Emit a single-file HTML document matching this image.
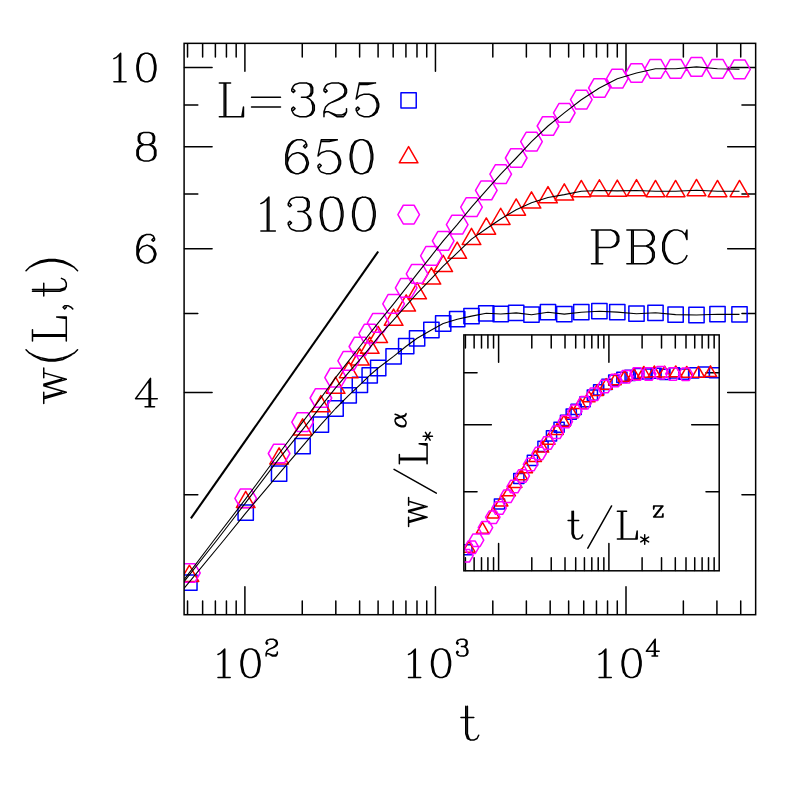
<!DOCTYPE html><html><head><meta charset="utf-8"><title>w(L,t)</title><style>html,body{margin:0;padding:0;background:#fff;font-family:"Liberation Sans",sans-serif}svg{display:block}</style></head><body><svg width="797" height="797" viewBox="0 0 797 797"><rect width="797" height="797" fill="#fff"/><path d="M187.54 614.3v-13.3M187.54 43.75v13.3M202.63 614.3v-13.3M202.63 43.75v13.3M215.38 614.3v-13.3M215.38 43.75v13.3M226.43 614.3v-13.3M226.43 43.75v13.3M236.18 614.3v-13.3M236.18 43.75v13.3M244.9 614.3v-27.6M244.9 43.75v27.6M302.26 614.3v-13.3M302.26 43.75v13.3M335.82 614.3v-13.3M335.82 43.75v13.3M359.62 614.3v-13.3M359.62 43.75v13.3M378.09 614.3v-13.3M378.09 43.75v13.3M393.18 614.3v-13.3M393.18 43.75v13.3M405.93 614.3v-13.3M405.93 43.75v13.3M416.98 614.3v-13.3M416.98 43.75v13.3M426.73 614.3v-13.3M426.73 43.75v13.3M435.45 614.3v-27.6M435.45 43.75v27.6M492.81 614.3v-13.3M492.81 43.75v13.3M526.37 614.3v-13.3M526.37 43.75v13.3M550.17 614.3v-13.3M550.17 43.75v13.3M568.64 614.3v-13.3M568.64 43.75v13.3M583.73 614.3v-13.3M583.73 43.75v13.3M596.48 614.3v-13.3M596.48 43.75v13.3M607.53 614.3v-13.3M607.53 43.75v13.3M617.28 614.3v-13.3M617.28 43.75v13.3M626 614.3v-27.6M626 43.75v27.6M683.36 614.3v-13.3M683.36 43.75v13.3M716.92 614.3v-13.3M716.92 43.75v13.3M740.72 614.3v-13.3M740.72 43.75v13.3M184.5 494.69h13.3M755.25 494.69h-13.3M184.5 392.62h27.6M755.25 392.62h-27.6M184.5 313.44h13.3M755.25 313.44h-13.3M184.5 248.75h27.6M755.25 248.75h-27.6M184.5 194.05h13.3M755.25 194.05h-13.3M184.5 146.68h27.6M755.25 146.68h-27.6M184.5 104.88h13.3M755.25 104.88h-13.3M184.5 67.5h27.6M755.25 67.5h-27.6" stroke="#000" stroke-width="1.5" fill="none" stroke-linecap="round"/><clipPath id="c1"><rect x="184.1" y="43.35" width="571.55" height="571.35"/></clipPath><g clip-path="url(#c1)" fill="none" stroke-linejoin="round"><path d="M190.9 518.4L378.2 251.5" stroke="#000" stroke-width="2.1"/><path d="M181.76 574.91h15.27v15.27h-15.27zM238.06 505.06h15.27v15.27h-15.27zM271.46 466.06h15.27v15.27h-15.27zM294.96 438.46h15.27v15.27h-15.27zM313.26 416.96h15.27v15.27h-15.27zM327.96 400.86h15.27v15.27h-15.27zM341.06 387.76h15.27v15.27h-15.27zM352.26 377.26h15.27v15.27h-15.27zM362.06 367.76h15.27v15.27h-15.27zM370.56 360.36h15.27v15.27h-15.27zM385.96 348.76h15.27v15.27h-15.27zM398.56 338.56h15.27v15.27h-15.27zM409.46 330.66h15.27v15.27h-15.27zM423.76 322.36h15.27v15.27h-15.27zM435.56 315.86h15.27v15.27h-15.27zM449.56 311.56h15.27v15.27h-15.27zM463.86 308.46h15.27v15.27h-15.27zM478.66 305.66h15.27v15.27h-15.27zM493.06 306.36h15.27v15.27h-15.27zM508.56 305.26h15.27v15.27h-15.27zM523.86 307.06h15.27v15.27h-15.27zM540.36 304.56h15.27v15.27h-15.27zM556.66 306.46h15.27v15.27h-15.27zM573.66 304.56h15.27v15.27h-15.27zM591.76 303.56h15.27v15.27h-15.27zM609.66 304.46h15.27v15.27h-15.27zM628.86 306.06h15.27v15.27h-15.27zM647.86 305.16h15.27v15.27h-15.27zM667.96 306.96h15.27v15.27h-15.27zM688.86 307.36h15.27v15.27h-15.27zM709.86 306.56h15.27v15.27h-15.27zM731.86 306.76h15.27v15.27h-15.27z" stroke="#00f" stroke-width="1.5"/><path d="M189.4 565.2L198.75 581.4L180.05 581.4zM245.7 491.35L255.05 507.55L236.35 507.55zM279.1 447.85L288.45 464.05L269.75 464.05zM302.6 418.85L311.95 435.05L293.25 435.05zM320.9 395.65L330.25 411.85L311.55 411.85zM335.6 377.15L344.95 393.35L326.25 393.35zM348.7 361.65L358.05 377.85L339.35 377.85zM359.9 348.85L369.25 365.05L350.55 365.05zM369.7 337.15L379.05 353.35L360.35 353.35zM378.2 326.35L387.55 342.55L368.85 342.55zM393.6 309.15L402.95 325.35L384.25 325.35zM406.2 294.85L415.55 311.05L396.85 311.05zM417.1 282.65L426.45 298.85L407.75 298.85zM431.4 267.85L440.75 284.05L422.05 284.05zM443.2 255.35L452.55 271.55L433.85 271.55zM457.2 242.15L466.55 258.35L447.85 258.35zM471.5 228.35L480.85 244.55L462.15 244.55zM486.3 217.95L495.65 234.15L476.95 234.15zM500.7 208.25L510.05 224.45L491.35 224.45zM516.2 198.95L525.55 215.15L506.85 215.15zM531.5 191.85L540.85 208.05L522.15 208.05zM548 186.65L557.35 202.85L538.65 202.85zM564.3 183.85L573.65 200.05L554.95 200.05zM581.3 180.45L590.65 196.65L571.95 196.65zM599.4 179.75L608.75 195.95L590.05 195.95zM617.3 180.05L626.65 196.25L607.95 196.25zM636.5 179.65L645.85 195.85L627.15 195.85zM655.5 180.45L664.85 196.65L646.15 196.65zM675.6 180.45L684.95 196.65L666.25 196.65zM696.5 179.45L705.85 195.65L687.15 195.65zM717.5 180.45L726.85 196.65L708.15 196.65zM739.5 180.45L748.85 196.65L730.15 196.65z" stroke="#f00" stroke-width="1.5"/><path d="M200.2 573L194.8 582.35L184 582.35L178.6 573L184 563.65L194.8 563.65zM256.5 498.4L251.1 507.75L240.3 507.75L234.9 498.4L240.3 489.05L251.1 489.05zM289.9 453.5L284.5 462.85L273.7 462.85L268.3 453.5L273.7 444.15L284.5 444.15zM313.4 422.1L308 431.45L297.2 431.45L291.8 422.1L297.2 412.75L308 412.75zM331.7 398L326.3 407.35L315.5 407.35L310.1 398L315.5 388.65L326.3 388.65zM346.4 377.6L341 386.95L330.2 386.95L324.8 377.6L330.2 368.25L341 368.25zM359.5 360.8L354.1 370.15L343.3 370.15L337.9 360.8L343.3 351.45L354.1 351.45zM370.7 346.5L365.3 355.85L354.5 355.85L349.1 346.5L354.5 337.15L365.3 337.15zM380.5 333.7L375.1 343.05L364.3 343.05L358.9 333.7L364.3 324.35L375.1 324.35zM389 322.8L383.6 332.15L372.8 332.15L367.4 322.8L372.8 313.45L383.6 313.45zM404.4 303.8L399 313.15L388.2 313.15L382.8 303.8L388.2 294.45L399 294.45zM417 287.8L411.6 297.15L400.8 297.15L395.4 287.8L400.8 278.45L411.6 278.45zM427.9 273.8L422.5 283.15L411.7 283.15L406.3 273.8L411.7 264.45L422.5 264.45zM442.2 255.8L436.8 265.15L426 265.15L420.6 255.8L426 246.45L436.8 246.45zM454 240.9L448.6 250.25L437.8 250.25L432.4 240.9L437.8 231.55L448.6 231.55zM468 224.7L462.6 234.05L451.8 234.05L446.4 224.7L451.8 215.35L462.6 215.35zM482.3 207.2L476.9 216.55L466.1 216.55L460.7 207.2L466.1 197.85L476.9 197.85zM497.1 190.4L491.7 199.75L480.9 199.75L475.5 190.4L480.9 181.05L491.7 181.05zM511.5 174.2L506.1 183.55L495.3 183.55L489.9 174.2L495.3 164.85L506.1 164.85zM527 158L521.6 167.35L510.8 167.35L505.4 158L510.8 148.65L521.6 148.65zM542.3 141.7L536.9 151.05L526.1 151.05L520.7 141.7L526.1 132.35L536.9 132.35zM558.8 126L553.4 135.35L542.6 135.35L537.2 126L542.6 116.65L553.4 116.65zM575.1 112.9L569.7 122.25L558.9 122.25L553.5 112.9L558.9 103.55L569.7 103.55zM592.1 99.7L586.7 109.05L575.9 109.05L570.5 99.7L575.9 90.35L586.7 90.35zM610.2 88L604.8 97.35L594 97.35L588.6 88L594 78.65L604.8 78.65zM628.1 78.7L622.7 88.05L611.9 88.05L606.5 78.7L611.9 69.35L622.7 69.35zM647.3 73L641.9 82.35L631.1 82.35L625.7 73L631.1 63.65L641.9 63.65zM666.3 68.8L660.9 78.15L650.1 78.15L644.7 68.8L650.1 59.45L660.9 59.45zM686.4 68.8L681 78.15L670.2 78.15L664.8 68.8L670.2 59.45L681 59.45zM707.3 66.9L701.9 76.25L691.1 76.25L685.7 66.9L691.1 57.55L701.9 57.55zM728.3 68.8L722.9 78.15L712.1 78.15L706.7 68.8L712.1 59.45L722.9 59.45zM750.3 69.3L744.9 78.65L734.1 78.65L728.7 69.3L734.1 59.95L744.9 59.95z" stroke="#f0f" stroke-width="1.5"/><path d="M180.8 592.2L184.85 587.4L224 540L245.7 513.1L279.1 473.7L302.6 446.1L320.9 424.6L335.6 408.5L348.7 395.4L359.9 384.9L369.7 375.4L378.2 368L393.6 356.4L406.2 346.2L417.1 338.3L431.4 330L443.2 323.5L457.2 319.2L471.5 316.1L486.3 313.3L500.7 314L516.2 312.9L531.5 314.7L548 312.2L564.3 314.1L581.3 312.2L599.4 311.2L617.3 312.1L636.5 313.7L655.5 312.8L675.6 314.6L696.5 315L717.5 314.2L739.5 314.4" stroke="#000" stroke-width="1.1" stroke-linejoin="round"/><path d="M180.8 585.6L184.85 580.6L217 540L232.4 520L245.9 502.3L279.1 458.65L302.6 429.65L320.9 406.45L335.6 387.95L348.7 372.45L359.9 359.65L369.7 347.95L378.2 337.15L393.6 319.95L406.2 305.65L417.1 293.45L431.4 278.65L443.2 266.15L457.2 252.95L471.5 239.15L486.3 228.75L500.7 219.05L516.2 209.75L531.5 202.65L548 197.45L564.3 194.65L581.3 191.25L599.4 190.55L617.3 190.85L636.5 190.45L655.5 191.25L675.6 191.25L696.5 190.25L717.5 191.25L739.5 191.25" stroke="#000" stroke-width="1.1" stroke-linejoin="round"/><path d="M180.8 583.8L184.85 578.6L214.1 540L245.8 498.7L279.1 453.5L302.6 422.1L320.9 398L335.6 377.6L348.7 360.8L359.9 346.5L369.7 333.7L378.2 322.8L393.6 303.8L406.2 287.8L417.1 273.8L431.4 255.8L443.2 240.9L457.2 224.7L471.5 207.2L486.3 190.4L500.7 174.2L516.2 158L531.5 141.7L548 126L564.3 112.9L581.3 99.7L599.4 88L617.3 78.7L636.5 73L655.5 68.8L675.6 68.8L696.5 66.9L717.5 68.8L739.5 69.3" stroke="#000" stroke-width="1.1" stroke-linejoin="round"/></g><path d="M400.96 92.66h15.27v15.27h-15.27z" stroke="#00f" stroke-width="1.5" fill="none" stroke-linejoin="round"/><path d="M408.6 146.65L417.95 162.85L399.25 162.85z" stroke="#f00" stroke-width="1.5" fill="none" stroke-linejoin="round"/><path d="M419.5 214.6L414.1 223.95L403.3 223.95L397.9 214.6L403.3 205.25L414.1 205.25z" stroke="#f0f" stroke-width="1.5" fill="none" stroke-linejoin="round"/><rect x="463.85" y="334.9" width="255.35" height="235.9" fill="#fff" stroke="none"/><path d="M465.4 570.4v-12.6M465.4 335.3v12.6M474.13 570.4v-12.6M474.13 335.3v12.6M481.51 570.4v-12.6M481.51 335.3v12.6M487.91 570.4v-12.6M487.91 335.3v12.6M493.55 570.4v-12.6M493.55 335.3v12.6M498.6 570.4v-27M498.6 335.3v27M531.8 570.4v-12.6M531.8 335.3v12.6M551.23 570.4v-12.6M551.23 335.3v12.6M565.01 570.4v-12.6M565.01 335.3v12.6M575.7 570.4v-12.6M575.7 335.3v12.6M584.43 570.4v-12.6M584.43 335.3v12.6M591.81 570.4v-12.6M591.81 335.3v12.6M598.21 570.4v-12.6M598.21 335.3v12.6M603.85 570.4v-12.6M603.85 335.3v12.6M608.9 570.4v-27M608.9 335.3v27M642.1 570.4v-12.6M642.1 335.3v12.6M661.53 570.4v-12.6M661.53 335.3v12.6M675.31 570.4v-12.6M675.31 335.3v12.6M686 570.4v-12.6M686 335.3v12.6M694.73 570.4v-12.6M694.73 335.3v12.6M702.11 570.4v-12.6M702.11 335.3v12.6M708.51 570.4v-12.6M708.51 335.3v12.6M714.15 570.4v-12.6M714.15 335.3v12.6M464.25 372.76h12.8M718.8 372.76h-12.8M464.25 424.7h27.1M718.8 424.7h-27.1M464.25 491.67h12.8M718.8 491.67h-12.8" stroke="#000" stroke-width="1.5" fill="none" stroke-linecap="round"/><clipPath id="c2"><rect x="463.85" y="334.9" width="255.35" height="235.9"/></clipPath><g clip-path="url(#c2)" fill="none" stroke-linejoin="round"><path d="M461.81 544.63h10.18v10.18h-10.18zM494.4 498.92h10.18v10.18h-10.18zM513.72 473.4h10.18v10.18h-10.18zM527.32 455.34h10.18v10.18h-10.18zM537.91 441.27h10.18v10.18h-10.18zM546.42 430.73h10.18v10.18h-10.18zM554 422.16h10.18v10.18h-10.18zM560.48 415.29h10.18v10.18h-10.18zM566.15 409.07h10.18v10.18h-10.18zM571.07 404.23h10.18v10.18h-10.18zM579.99 396.64h10.18v10.18h-10.18zM587.28 389.96h10.18v10.18h-10.18zM593.58 384.79h10.18v10.18h-10.18zM601.86 379.36h10.18v10.18h-10.18zM608.69 375.11h10.18v10.18h-10.18zM616.79 372.29h10.18v10.18h-10.18zM625.07 370.26h10.18v10.18h-10.18zM633.63 368.43h10.18v10.18h-10.18zM641.96 368.89h10.18v10.18h-10.18zM650.93 368.17h10.18v10.18h-10.18zM659.79 369.35h10.18v10.18h-10.18zM669.34 367.71h10.18v10.18h-10.18zM678.77 368.96h10.18v10.18h-10.18zM688.61 367.71h10.18v10.18h-10.18zM699.08 367.06h10.18v10.18h-10.18zM709.44 367.65h10.18v10.18h-10.18z" stroke="#00f" stroke-width="1.5"/><path d="M468.92 541.44L475.15 552.24L462.68 552.24zM482.51 522.46L488.75 533.26L476.28 533.26zM493.1 507.28L499.34 518.08L486.87 518.08zM501.61 495.17L507.85 505.97L495.38 505.97zM509.19 485.03L515.43 495.83L502.96 495.83zM515.67 476.65L521.91 487.45L509.44 487.45zM521.35 469L527.58 479.8L515.11 479.8zM526.26 461.93L532.5 472.73L520.03 472.73zM535.18 450.68L541.41 461.48L528.94 461.48zM542.47 441.32L548.7 452.12L536.23 452.12zM548.78 433.33L555.01 444.13L542.54 444.13zM557.05 423.65L563.29 434.45L550.82 434.45zM563.88 415.47L570.12 426.27L557.64 426.27zM571.98 406.83L578.22 417.63L565.75 417.63zM580.26 397.8L586.49 408.6L574.02 408.6zM588.82 390.99L595.06 401.79L582.59 401.79zM597.16 384.65L603.39 395.45L590.92 395.45zM606.12 378.56L612.36 389.36L599.89 389.36zM614.98 373.91L621.21 384.71L608.74 384.71zM624.53 370.51L630.76 381.31L618.29 381.31zM633.96 368.68L640.2 379.48L627.73 379.48zM643.8 366.45L650.03 377.25L637.56 377.25zM654.27 366L660.51 376.8L648.04 376.8zM664.63 366.19L670.87 376.99L658.4 376.99zM675.74 365.93L681.98 376.73L669.51 376.73zM686.74 366.45L692.97 377.25L680.5 377.25zM698.37 366.45L704.61 377.25L692.13 377.25zM710.46 365.8L716.7 376.6L704.23 376.6z" stroke="#f00" stroke-width="1.5"/><path d="M473.17 555.65L469.57 561.88L462.37 561.88L458.77 555.65L462.37 549.41L469.57 549.41zM478.85 547.27L475.25 553.51L468.05 553.51L464.45 547.27L468.05 541.04L475.25 541.04zM483.76 540.14L480.16 546.38L472.96 546.38L469.36 540.14L472.96 533.9L480.16 533.9zM492.68 527.71L489.08 533.94L481.88 533.94L478.28 527.71L481.88 521.47L489.08 521.47zM499.97 517.24L496.37 523.47L489.17 523.47L485.57 517.24L489.17 511L496.37 511zM506.28 508.07L502.68 514.31L495.48 514.31L491.88 508.07L495.48 501.84L502.68 501.84zM514.55 496.3L510.95 502.53L503.75 502.53L500.15 496.3L503.75 490.06L510.95 490.06zM521.38 486.54L517.78 492.78L510.58 492.78L506.98 486.54L510.58 480.31L517.78 480.31zM529.48 475.94L525.88 482.18L518.68 482.18L515.08 475.94L518.68 469.71L525.88 469.71zM537.76 464.49L534.16 470.73L526.96 470.73L523.36 464.49L526.96 458.26L534.16 458.26zM546.32 453.5L542.72 459.73L535.52 459.73L531.92 453.5L535.52 447.26L542.72 447.26zM554.66 442.9L551.06 449.13L543.86 449.13L540.26 442.9L543.86 436.66L551.06 436.66zM563.62 432.3L560.02 438.53L552.82 438.53L549.22 432.3L552.82 426.06L560.02 426.06zM572.48 421.63L568.88 427.86L561.68 427.86L558.08 421.63L561.68 415.39L568.88 415.39zM582.03 411.35L578.43 417.59L571.23 417.59L567.63 411.35L571.23 405.12L578.43 405.12zM591.46 402.78L587.86 409.02L580.66 409.02L577.06 402.78L580.66 396.55L587.86 396.55zM601.3 394.14L597.7 400.38L590.5 400.38L586.9 394.14L590.5 387.91L597.7 387.91zM611.77 386.49L608.17 392.72L600.97 392.72L597.37 386.49L600.97 380.25L608.17 380.25zM622.13 380.4L618.53 386.64L611.33 386.64L607.73 380.4L611.33 374.17L618.53 374.17zM633.24 376.67L629.64 382.91L622.44 382.91L618.84 376.67L622.44 370.44L629.64 370.44zM644.24 373.92L640.64 380.16L633.44 380.16L629.84 373.92L633.44 367.69L640.64 367.69zM655.87 373.92L652.27 380.16L645.07 380.16L641.47 373.92L645.07 367.69L652.27 367.69zM667.96 372.68L664.36 378.91L657.16 378.91L653.56 372.68L657.16 366.44L664.36 366.44zM680.12 373.92L676.52 380.16L669.32 380.16L665.72 373.92L669.32 367.69L676.52 367.69zM692.85 374.25L689.25 380.49L682.05 380.49L678.45 374.25L682.05 368.01L689.25 368.01z" stroke="#f0f" stroke-width="1.5"/></g><rect x="463.85" y="334.9" width="255.35" height="235.9" fill="none" stroke="#000" stroke-width="1.5"/><rect x="184.1" y="43.35" width="571.55" height="571.35" fill="none" stroke="#000" stroke-width="1.5"/><path d="M145.06 53.27L141 54.63L138.29 58.69L136.93 65.47L136.93 69.53L138.29 76.31L141 80.37L145.06 81.73L147.77 81.73L151.84 80.37L154.55 76.31L155.9 69.53L155.9 65.47L154.55 58.69L151.84 54.63L147.77 53.27L145.06 53.27M145.06 53.27L142.35 54.63L141 55.98L139.64 58.69L138.29 65.47L138.29 69.53L139.64 76.31L141 79.02L142.35 80.37L145.06 81.73M147.77 81.73L150.48 80.37L151.84 79.02L153.19 76.31L154.55 69.53L154.55 65.47L153.19 58.69L151.84 55.98L150.48 54.63L147.77 53.27M113.9 58.69L116.61 57.34L120.67 53.27L120.67 81.73M119.32 54.63L119.32 81.73M113.9 81.73L126.09 81.73M143.71 132.45L139.64 133.8L138.29 136.51L138.29 140.58L139.64 143.29L143.71 144.64L149.13 144.64L153.19 143.29L154.55 140.58L154.55 136.51L153.19 133.8L149.13 132.45L143.71 132.45M143.71 132.45L141 133.8L139.64 136.51L139.64 140.58L141 143.29L143.71 144.64M149.13 144.64L151.84 143.29L153.19 140.58L153.19 136.51L151.84 133.8L149.13 132.45M143.71 144.64L139.64 146L138.29 147.35L136.93 150.06L136.93 155.48L138.29 158.19L139.64 159.55L143.71 160.9L149.13 160.9L153.19 159.55L154.55 158.19L155.9 155.48L155.9 150.06L154.55 147.35L153.19 146L149.13 144.64M143.71 144.64L141 146L139.64 147.35L138.29 150.06L138.29 155.48L139.64 158.19L141 159.55L143.71 160.9M149.13 160.9L151.84 159.55L153.19 158.19L154.55 155.48L154.55 150.06L153.19 147.35L151.84 146L149.13 144.64M153.19 238.59L151.84 239.94L153.19 241.3L154.55 239.94L154.55 238.59L153.19 235.88L150.48 234.52L146.42 234.52L142.35 235.88L139.64 238.59L138.29 241.3L136.93 246.72L136.93 254.85L138.29 258.91L141 261.62L145.06 262.98L147.77 262.98L151.84 261.62L154.55 258.91L155.9 254.85L155.9 253.49L154.55 249.43L151.84 246.72L147.77 245.36L146.42 245.36L142.35 246.72L139.64 249.43L138.29 253.49M146.42 234.52L143.71 235.88L141 238.59L139.64 241.3L138.29 246.72L138.29 254.85L139.64 258.91L142.35 261.62L145.06 262.98M147.77 262.98L150.48 261.62L153.19 258.91L154.55 254.85L154.55 253.49L153.19 249.43L150.48 246.72L147.77 245.36M149.13 381.1L149.13 406.84M150.48 378.39L150.48 406.84M150.48 378.39L135.58 398.71L157.26 398.71M145.06 406.84L154.55 406.84M217.98 654.46L220.69 653.1L224.75 649.04L224.75 677.5M223.4 650.39L223.4 677.5M217.98 677.5L230.18 677.5M249.15 649.04L245.08 650.39L242.37 654.46L241.01 661.23L241.01 665.3L242.37 672.07L245.08 676.14L249.15 677.5L251.85 677.5L255.92 676.14L258.63 672.07L259.99 665.3L259.99 661.23L258.63 654.46L255.92 650.39L251.85 649.04L249.15 649.04M249.15 649.04L246.44 650.39L245.08 651.75L243.72 654.46L242.37 661.23L242.37 665.3L243.72 672.07L245.08 674.78L246.44 676.14L249.15 677.5M251.85 677.5L254.56 676.14L255.92 674.78L257.27 672.07L258.63 665.3L258.63 661.23L257.27 654.46L255.92 651.75L254.56 650.39L251.85 649.04M266.9 642.5L267.7 643.3L266.9 644.1L266.1 643.3L266.1 642.5L266.9 640.9L267.7 640.1L270.1 639.3L273.3 639.3L275.7 640.1L276.5 640.9L277.3 642.5L277.3 644.1L276.5 645.7L274.1 647.3L270.1 648.9L268.5 649.7L266.9 651.3L266.1 653.7L266.1 656.1M273.3 639.3L274.9 640.1L275.7 640.9L276.5 642.5L276.5 644.1L275.7 645.7L273.3 647.3L270.1 648.9M266.1 654.5L266.9 653.7L268.5 653.7L272.5 655.3L274.9 655.3L276.5 654.5L277.3 653.7M268.5 653.7L272.5 656.1L275.7 656.1L276.5 655.3L277.3 653.7L277.3 652.1M408.53 654.46L411.24 653.1L415.31 649.04L415.31 677.5M413.95 650.39L413.95 677.5M408.53 677.5L420.73 677.5M439.7 649.04L435.63 650.39L432.92 654.46L431.57 661.23L431.57 665.3L432.92 672.07L435.63 676.14L439.7 677.5L442.41 677.5L446.47 676.14L449.18 672.07L450.54 665.3L450.54 661.23L449.18 654.46L446.47 650.39L442.41 649.04L439.7 649.04M439.7 649.04L436.99 650.39L435.63 651.75L434.28 654.46L432.92 661.23L432.92 665.3L434.28 672.07L435.63 674.78L436.99 676.14L439.7 677.5M442.41 677.5L445.12 676.14L446.47 674.78L447.83 672.07L449.18 665.3L449.18 661.23L447.83 654.46L446.47 651.75L445.12 650.39L442.41 649.04M457.45 642.5L458.25 643.3L457.45 644.1L456.65 643.3L456.65 642.5L457.45 640.9L458.25 640.1L460.65 639.3L463.85 639.3L466.25 640.1L467.05 641.7L467.05 644.1L466.25 645.7L463.85 646.5L461.45 646.5M463.85 639.3L465.45 640.1L466.25 641.7L466.25 644.1L465.45 645.7L463.85 646.5M463.85 646.5L465.45 647.3L467.05 648.9L467.85 650.5L467.85 652.9L467.05 654.5L466.25 655.3L463.85 656.1L460.65 656.1L458.25 655.3L457.45 654.5L456.65 652.9L456.65 652.1L457.45 651.3L458.25 652.1L457.45 652.9M466.25 648.1L467.05 650.5L467.05 652.9L466.25 654.5L465.45 655.3L463.85 656.1M599.08 654.46L601.79 653.1L605.86 649.04L605.86 677.5M604.5 650.39L604.5 677.5M599.08 677.5L611.27 677.5M630.25 649.04L626.18 650.39L623.47 654.46L622.12 661.23L622.12 665.3L623.47 672.07L626.18 676.14L630.25 677.5L632.96 677.5L637.02 676.14L639.73 672.07L641.09 665.3L641.09 661.23L639.73 654.46L637.02 650.39L632.96 649.04L630.25 649.04M630.25 649.04L627.53 650.39L626.18 651.75L624.83 654.46L623.47 661.23L623.47 665.3L624.83 672.07L626.18 674.78L627.53 676.14L630.25 677.5M632.96 677.5L635.67 676.14L637.02 674.78L638.38 672.07L639.73 665.3L639.73 661.23L638.38 654.46L637.02 651.75L635.67 650.39L632.96 649.04M654.4 640.9L654.4 656.1M655.2 639.3L655.2 656.1M655.2 639.3L646.4 651.3L659.2 651.3M652 656.1L657.6 656.1M465.78 706.28L465.78 733.65L467.39 738.48L470.61 740.09L473.83 740.09L477.05 738.48L478.66 735.26M467.39 706.28L467.39 733.65L469 738.48L470.61 740.09M460.95 717.55L473.83 717.55M43.75 398.66L66.29 392.22M43.75 397.05L61.46 392.22M43.75 385.78L66.29 392.22M43.75 385.78L66.29 379.34M43.75 384.17L61.46 379.34M43.75 372.9L66.29 379.34M43.75 403.49L43.75 392.22M43.75 377.73L43.75 368.07M26.04 349.75L29.26 352.97L34.09 356.19L40.53 359.41L48.58 361.02L55.02 361.02L63.07 359.41L69.51 356.19L74.34 352.97L77.56 349.75M29.26 352.97L35.7 356.19L40.53 357.8L48.58 359.41L55.02 359.41L63.07 357.8L67.9 356.19L74.34 352.97M32.48 336.27L66.29 336.27M32.48 334.66L66.29 334.66M32.48 341.1L32.48 329.83M66.29 341.1L66.29 316.95L56.63 316.95L66.29 318.56M66.29 307.29L64.68 308.9L63.07 307.29L64.68 305.68L67.9 305.68L71.12 307.29L72.73 308.9M32.48 291.19L59.85 291.19L64.68 289.58L66.29 286.36L66.29 283.14L64.68 279.92L61.46 278.31M32.48 289.58L59.85 289.58L64.68 287.97L66.29 286.36M43.75 296.02L43.75 283.14M26.04 270.66L29.26 267.44L34.09 264.22L40.53 261L48.58 259.39L55.02 259.39L63.07 261L69.51 264.22L74.34 267.44L77.56 270.66M29.26 267.44L35.7 264.22L40.53 262.61L48.58 261L55.02 261L63.07 262.61L67.9 264.22L74.34 267.44M224.15 82.88L224.15 116.69M225.76 82.88L225.76 116.69M219.32 82.88L230.59 82.88M219.32 116.69L243.47 116.69L243.47 107.03L241.86 116.69M251.52 97.37L280.5 97.37M251.52 107.03L280.5 107.03M293.38 89.32L294.99 90.93L293.38 92.54L291.77 90.93L291.77 89.32L293.38 86.1L294.99 84.49L299.82 82.88L306.26 82.88L311.09 84.49L312.7 87.71L312.7 92.54L311.09 95.76L306.26 97.37L301.43 97.37M306.26 82.88L309.48 84.49L311.09 87.71L311.09 92.54L309.48 95.76L306.26 97.37M306.26 97.37L309.48 98.98L312.7 102.2L314.31 105.42L314.31 110.25L312.7 113.47L311.09 115.08L306.26 116.69L299.82 116.69L294.99 115.08L293.38 113.47L291.77 110.25L291.77 108.64L293.38 107.03L294.99 108.64L293.38 110.25M311.09 100.59L312.7 105.42L312.7 110.25L311.09 113.47L309.48 115.08L306.26 116.69M325.58 89.32L327.19 90.93L325.58 92.54L323.97 90.93L323.97 89.32L325.58 86.1L327.19 84.49L332.02 82.88L338.46 82.88L343.29 84.49L344.9 86.1L346.51 89.32L346.51 92.54L344.9 95.76L340.07 98.98L332.02 102.2L328.8 103.81L325.58 107.03L323.97 111.86L323.97 116.69M338.46 82.88L341.68 84.49L343.29 86.1L344.9 89.32L344.9 92.54L343.29 95.76L338.46 98.98L332.02 102.2M323.97 113.47L325.58 111.86L328.8 111.86L336.85 115.08L341.68 115.08L344.9 113.47L346.51 111.86M328.8 111.86L336.85 116.69L343.29 116.69L344.9 115.08L346.51 111.86L346.51 108.64M359.39 82.88L356.17 98.98M356.17 98.98L359.39 95.76L364.22 94.15L369.05 94.15L373.88 95.76L377.1 98.98L378.71 103.81L378.71 107.03L377.1 111.86L373.88 115.08L369.05 116.69L364.22 116.69L359.39 115.08L357.78 113.47L356.17 110.25L356.17 108.64L357.78 107.03L359.39 108.64L357.78 110.25M369.05 94.15L372.27 95.76L375.49 98.98L377.1 103.81L377.1 107.03L375.49 111.86L372.27 115.08L369.05 116.69M359.39 82.88L375.49 82.88M359.39 84.49L367.44 84.49L375.49 82.88M305.15 144.66L303.54 146.27L305.15 147.88L306.76 146.27L306.76 144.66L305.15 141.44L301.93 139.83L297.1 139.83L292.27 141.44L289.05 144.66L287.44 147.88L285.83 154.32L285.83 163.98L287.44 168.81L290.66 172.03L295.49 173.64L298.71 173.64L303.54 172.03L306.76 168.81L308.37 163.98L308.37 162.37L306.76 157.54L303.54 154.32L298.71 152.71L297.1 152.71L292.27 154.32L289.05 157.54L287.44 162.37M297.1 139.83L293.88 141.44L290.66 144.66L289.05 147.88L287.44 154.32L287.44 163.98L289.05 168.81L292.27 172.03L295.49 173.64M298.71 173.64L301.93 172.03L305.15 168.81L306.76 163.98L306.76 162.37L305.15 157.54L301.93 154.32L298.71 152.71M321.25 139.83L318.03 155.93M318.03 155.93L321.25 152.71L326.08 151.1L330.91 151.1L335.74 152.71L338.96 155.93L340.57 160.76L340.57 163.98L338.96 168.81L335.74 172.03L330.91 173.64L326.08 173.64L321.25 172.03L319.64 170.42L318.03 167.2L318.03 165.59L319.64 163.98L321.25 165.59L319.64 167.2M330.91 151.1L334.13 152.71L337.35 155.93L338.96 160.76L338.96 163.98L337.35 168.81L334.13 172.03L330.91 173.64M321.25 139.83L337.35 139.83M321.25 141.44L329.3 141.44L337.35 139.83M359.89 139.83L355.06 141.44L351.84 146.27L350.23 154.32L350.23 159.15L351.84 167.2L355.06 172.03L359.89 173.64L363.11 173.64L367.94 172.03L371.16 167.2L372.77 159.15L372.77 154.32L371.16 146.27L367.94 141.44L363.11 139.83L359.89 139.83M359.89 139.83L356.67 141.44L355.06 143.05L353.45 146.27L351.84 154.32L351.84 159.15L353.45 167.2L355.06 170.42L356.67 172.03L359.89 173.64M363.11 173.64L366.33 172.03L367.94 170.42L369.55 167.2L371.16 159.15L371.16 154.32L369.55 146.27L367.94 143.05L366.33 141.44L363.11 139.83M260.86 203.57L264.08 201.96L268.91 197.13L268.91 230.94M267.3 198.74L267.3 230.94M260.86 230.94L275.35 230.94M289.84 203.57L291.45 205.18L289.84 206.79L288.23 205.18L288.23 203.57L289.84 200.35L291.45 198.74L296.28 197.13L302.72 197.13L307.55 198.74L309.16 201.96L309.16 206.79L307.55 210.01L302.72 211.62L297.89 211.62M302.72 197.13L305.94 198.74L307.55 201.96L307.55 206.79L305.94 210.01L302.72 211.62M302.72 211.62L305.94 213.23L309.16 216.45L310.77 219.67L310.77 224.5L309.16 227.72L307.55 229.33L302.72 230.94L296.28 230.94L291.45 229.33L289.84 227.72L288.23 224.5L288.23 222.89L289.84 221.28L291.45 222.89L289.84 224.5M307.55 214.84L309.16 219.67L309.16 224.5L307.55 227.72L305.94 229.33L302.72 230.94M330.09 197.13L325.26 198.74L322.04 203.57L320.43 211.62L320.43 216.45L322.04 224.5L325.26 229.33L330.09 230.94L333.31 230.94L338.14 229.33L341.36 224.5L342.97 216.45L342.97 211.62L341.36 203.57L338.14 198.74L333.31 197.13L330.09 197.13M330.09 197.13L326.87 198.74L325.26 200.35L323.65 203.57L322.04 211.62L322.04 216.45L323.65 224.5L325.26 227.72L326.87 229.33L330.09 230.94M333.31 230.94L336.53 229.33L338.14 227.72L339.75 224.5L341.36 216.45L341.36 211.62L339.75 203.57L338.14 200.35L336.53 198.74L333.31 197.13M362.29 197.13L357.46 198.74L354.24 203.57L352.63 211.62L352.63 216.45L354.24 224.5L357.46 229.33L362.29 230.94L365.51 230.94L370.34 229.33L373.56 224.5L375.17 216.45L375.17 211.62L373.56 203.57L370.34 198.74L365.51 197.13L362.29 197.13M362.29 197.13L359.07 198.74L357.46 200.35L355.85 203.57L354.24 211.62L354.24 216.45L355.85 224.5L357.46 227.72L359.07 229.33L362.29 230.94M365.51 230.94L368.73 229.33L370.34 227.72L371.95 224.5L373.56 216.45L373.56 211.62L371.95 203.57L370.34 200.35L368.73 198.74L365.51 197.13M596.25 229.88L596.25 263.69M597.86 229.88L597.86 263.69M591.42 229.88L610.74 229.88L615.57 231.49L617.18 233.1L618.79 236.32L618.79 241.15L617.18 244.37L615.57 245.98L610.74 247.59L597.86 247.59M610.74 229.88L613.96 231.49L615.57 233.1L617.18 236.32L617.18 241.15L615.57 244.37L613.96 245.98L610.74 247.59M591.42 263.69L602.69 263.69M631.67 229.88L631.67 263.69M633.28 229.88L633.28 263.69M626.84 229.88L646.16 229.88L650.99 231.49L652.6 233.1L654.21 236.32L654.21 239.54L652.6 242.76L650.99 244.37L646.16 245.98M646.16 229.88L649.38 231.49L650.99 233.1L652.6 236.32L652.6 239.54L650.99 242.76L649.38 244.37L646.16 245.98M633.28 245.98L646.16 245.98L650.99 247.59L652.6 249.2L654.21 252.42L654.21 257.25L652.6 260.47L650.99 262.08L646.16 263.69L626.84 263.69M646.16 245.98L649.38 247.59L650.99 249.2L652.6 252.42L652.6 257.25L650.99 260.47L649.38 262.08L646.16 263.69M685.31 234.71L686.92 239.54L686.92 229.88L685.31 234.71L682.09 231.49L677.26 229.88L674.04 229.88L669.21 231.49L665.99 234.71L664.38 237.93L662.77 242.76L662.77 250.81L664.38 255.64L665.99 258.86L669.21 262.08L674.04 263.69L677.26 263.69L682.09 262.08L685.31 258.86L686.92 255.64M674.04 229.88L670.82 231.49L667.6 234.71L665.99 237.93L664.38 242.76L664.38 250.81L665.99 255.64L667.6 258.86L670.82 262.08L674.04 263.69M572.06 511.21L572.06 533.65L573.38 537.61L576.02 538.93L578.66 538.93L581.3 537.61L582.62 534.97M573.38 511.21L573.38 533.65L574.7 537.61L576.02 538.93M568.1 520.45L578.66 520.45M611.58 505.93L587.82 548.17M621.32 511.21L621.32 538.93M622.64 511.21L622.64 538.93M617.36 511.21L626.6 511.21M617.36 538.93L637.16 538.93L637.16 531.01L635.84 538.93M644.7 534.82L644.7 544.18M640.8 537.16L648.6 541.84M648.6 537.16L640.8 541.84M662.2 506L653.62 516.92M662.98 506L654.4 516.92M654.4 506L653.62 509.12L653.62 506L662.98 506M653.62 516.92L662.98 516.92L662.98 513.8L662.2 516.92M408.6 522.46L427.08 517.18M408.6 521.14L423.12 517.18M408.6 511.9L427.08 517.18M408.6 511.9L427.08 506.62M408.6 510.58L423.12 506.62M408.6 501.34L427.08 506.62M408.6 526.42L408.6 517.18M408.6 505.3L408.6 497.38M394.08 469.37L436.32 493.13M399.36 459.68L427.08 459.68M399.36 458.36L427.08 458.36M399.36 463.64L399.36 454.4M427.08 463.64L427.08 443.84L419.16 443.84L427.08 445.16M423.12 436.2L432.48 436.2M425.46 440.1L430.14 432.3M425.46 432.3L430.14 440.1M395.1 421.28L395.88 423.62L397.44 425.18L399 425.96L401.34 426.74L403.68 426.74L405.24 425.96L406.02 423.62L406.02 422.06L405.24 420.5L402.9 418.16L400.56 416.6L397.44 415.04L395.1 414.26M395.1 421.28L395.88 422.84L397.44 424.4L399 425.18L401.34 425.96L403.68 425.96L405.24 425.18L406.02 423.62M395.1 421.28L395.1 419.72L395.88 418.16L397.44 417.38L403.68 415.82L405.24 415.04L406.02 414.26M395.1 419.72L395.88 418.94L397.44 418.16L403.68 416.6L405.24 415.82L406.02 414.26L406.02 413.48" stroke="#000" stroke-width="1.5" fill="none" stroke-linecap="round" stroke-linejoin="round"/></svg></body></html>
